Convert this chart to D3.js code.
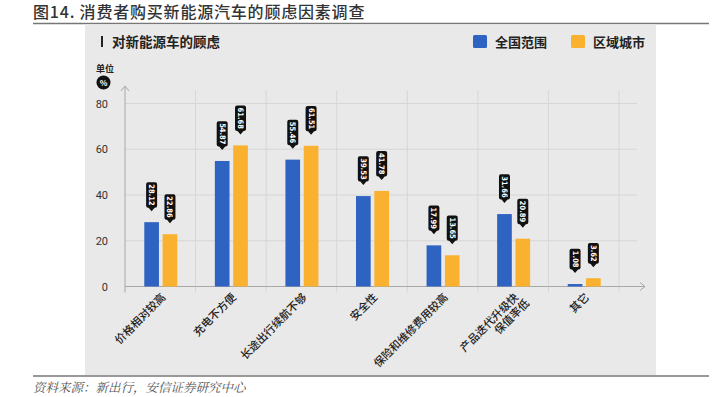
<!DOCTYPE html>
<html>
<head>
<meta charset="utf-8">
<title>消费者购买新能源汽车的顾虑因素调查</title>
<script src="https://cdn.jsdelivr.net/npm/d3@7"></script>
<style>
  body { margin: 0; background: #fff; }
  text { font-family: "Noto Sans CJK SC", "Noto Sans", sans-serif; }
</style>
</head>
<body>
<div id="chart"></div>
<script>
// data
var categories = ["价格相对较高", "充电不方便", "长途出行续航不够", "安全性", "保险和维修费用较高", "产品迭代升级快\n保值率低", "其它"];
var seriesNames = ["全国范围", "区域城市"];
var national = [28.12, 54.87, 55.46, 39.53, 17.99, 31.66, 1.08];
var regional = [22.86, 61.68, 61.51, 41.78, 13.65, 20.89, 3.62];
var yTicks = [0, 20, 40, 60, 80];
var colors = ["#2e63c1", "#f9b12f"];

var width = 718, height = 397;
var svg = d3.select("#chart").append("svg").attr("width", width).attr("height", height);

// title + rules
svg.append("text").attr("x", 33).attr("y", 18)
  .attr("font-size", 16).attr("fill", "#333").attr("font-weight", 500)
  .attr("letter-spacing", 0.8)
  .text("图14. 消费者购买新能源汽车的顾虑因素调查");
svg.append("line").attr("x1", 33).attr("x2", 709).attr("y1", 23.5).attr("y2", 23.5)
  .attr("stroke", "#777").attr("stroke-width", 1.5);
svg.append("line").attr("x1", 33).attr("x2", 709).attr("y1", 376).attr("y2", 376)
  .attr("stroke", "#777").attr("stroke-width", 1.5);
svg.append("text").attr("x", 33).attr("y", 392)
  .attr("font-size", 12.5).attr("fill", "#555").attr("font-style", "italic")
  .style("font-family", "'Noto Serif CJK SC', 'Noto Sans CJK SC', serif")
  .text("资料来源：新出行，安信证券研究中心");

// grey panel
svg.append("rect").attr("x", 85).attr("y", 24.5).attr("width", 571).attr("height", 350.5).attr("fill", "#e9e9e9");

svg.append("rect").attr("x", 101).attr("y", 36).attr("width", 2).attr("height", 11).attr("fill", "#222");
svg.append("text").attr("x", 112).attr("y", 46.5)
  .attr("font-size", 13.5).attr("font-weight", "bold").attr("fill", "#222")
  .text("对新能源车的顾虑");

// legend
var legend = svg.selectAll("g.legend").data(seriesNames).enter().append("g")
  .attr("class", "legend")
  .attr("transform", function (d, i) { return "translate(" + [473, 571][i] + ",35)"; });
legend.append("rect").attr("width", 14).attr("height", 13).attr("rx", 1.5)
  .attr("fill", function (d, i) { return colors[i]; });
legend.append("text").attr("x", 22).attr("y", 11.5)
  .attr("font-size", 13).attr("font-weight", "bold").attr("fill", "#222")
  .text(function (d) { return d; });

// unit
svg.append("text").attr("x", 96).attr("y", 72).attr("font-size", 9).attr("font-weight", "bold")
  .attr("fill", "#222").text("单位");
svg.append("circle").attr("cx", 103.5).attr("cy", 82.5).attr("r", 7).attr("fill", "#111");
svg.append("text").attr("x", 103.5).attr("y", 82.5).attr("text-anchor", "middle")
  .attr("dominant-baseline", "central").attr("font-size", 8).attr("font-weight", "bold")
  .attr("fill", "#fff").text("%");

// scales
var x = d3.scaleBand().domain(categories).range([125, 619]);
var x1 = d3.scaleBand().domain(seriesNames).range([0, 33]).paddingInner(0.2);
var y = d3.scaleLinear().domain([0, 80]).range([286.5, 103.5]);

// grid
var grid = svg.append("g").attr("stroke", "#d6d6d6").attr("stroke-width", 1);
grid.selectAll("line.h").data(yTicks.slice(1)).enter().append("line").attr("class", "h")
  .attr("x1", 125).attr("x2", 637)
  .attr("y1", function (d) { return y(d); }).attr("y2", function (d) { return y(d); });
grid.selectAll("line.v").data(categories).enter().append("line").attr("class", "v")
  .attr("x1", function (d) { return x(d) + x.bandwidth(); })
  .attr("x2", function (d) { return x(d) + x.bandwidth(); })
  .attr("y1", y(80) - 13).attr("y2", y(0) + 6);

// axes lines with arrows
var axisColor = "#a8a8a8";
svg.append("line").attr("x1", 125).attr("x2", 125).attr("y1", y(0) + 6).attr("y2", 86)
  .attr("stroke", axisColor);
svg.append("path").attr("d", "M121,91L125,86L129,91").attr("fill", "none").attr("stroke", axisColor);
svg.append("line").attr("x1", 125).attr("x2", 645).attr("y1", y(0)).attr("y2", y(0))
  .attr("stroke", axisColor);
svg.append("path").attr("d", "M640," + (y(0) - 4) + "L645," + y(0) + "L640," + (y(0) + 4))
  .attr("fill", "none").attr("stroke", axisColor);

// y axis labels
var yAxis = svg.append("g").attr("transform", "translate(125,0)")
  .call(d3.axisLeft(y).tickValues(yTicks).tickSize(0).tickPadding(17));
yAxis.select(".domain").remove();
yAxis.selectAll("text").attr("font-size", 11).attr("fill", "#333")
  .style("font-family", "Roboto, 'Noto Sans', sans-serif");

// bars
var rows = categories.map(function (c, i) {
  return { cat: c, vals: [national[i], regional[i]] };
});
var groups = svg.selectAll("g.grp").data(rows).enter().append("g").attr("class", "grp")
  .attr("transform", function (d) { return "translate(" + (x(d.cat) + x.bandwidth() / 2 - 16) + ",0)"; });
var cells = groups.selectAll("g.cell").data(function (d) {
  return d.vals.map(function (v, i) { return { v: v, s: seriesNames[i], i: i }; });
}).enter().append("g").attr("class", "cell");
cells.append("rect")
  .attr("x", function (d) { return x1(d.s); })
  .attr("width", x1.bandwidth())
  .attr("y", function (d) { return y(d.v); })
  .attr("height", function (d) { return y(0) - y(d.v); })
  .attr("fill", function (d) { return colors[d.i]; });

// callout labels: black tag with pointer, text turned 90deg
var tags = cells.append("g")
  .attr("transform", function (d) {
    return "translate(" + (x1(d.s) + x1.bandwidth() / 2) + "," + (y(d.v) - 11) + ")";
  });
var tagPath = tags.append("path").attr("fill", "#111");
var tagText = tags.append("text")
  .attr("text-anchor", "middle").attr("dominant-baseline", "central")
  .attr("font-size", 7.5).attr("font-weight", "bold").attr("fill", "#fff")
  .style("font-family", "'DejaVu Sans Condensed', 'Liberation Sans Narrow', sans-serif")
  .text(function (d) { return d.v.toFixed(2); });
tagText.each(function (d) { d.h = this.getComputedTextLength() + 4; });
tagText.attr("transform", function (d) {
  return "translate(0," + (-3.5 - d.h / 2) + ") rotate(90)";
});
tagPath.attr("d", function (d) {
  var h = d.h, w = 5.5, r = 2, b = -3.5;
  return "M0,0L-3," + b + "L" + (-w + r) + "," + b + "Q" + (-w) + "," + b + " " + (-w) + "," + (b - r) +
    "L" + (-w) + "," + (b - h + r) + "Q" + (-w) + "," + (b - h) + " " + (-w + r) + "," + (b - h) +
    "L" + (w - r) + "," + (b - h) + "Q" + w + "," + (b - h) + " " + w + "," + (b - h + r) +
    "L" + w + "," + (b - r) + "Q" + w + "," + b + " " + (w - r) + "," + b + "L3," + b + "Z";
});

// x labels
var xl = svg.selectAll("text.xl").data(categories).enter().append("text").attr("class", "xl")
  .attr("transform", function (d) {
    return "translate(" + (x(d) + x.bandwidth() / 2 + 6) + ",298) rotate(-45)";
  })
  .attr("text-anchor", "end").attr("font-size", 11).attr("font-weight", 500).attr("fill", "#222");
xl.selectAll("tspan").data(function (d) { return d.split("\n"); }).enter().append("tspan")
  .attr("x", function (d, i) { return i ? 3.5 : 0; })
  .attr("dy", function (d, i) { return i ? 12 : 0; })
  .text(function (d) { return d; });
</script>
</body>
</html>
